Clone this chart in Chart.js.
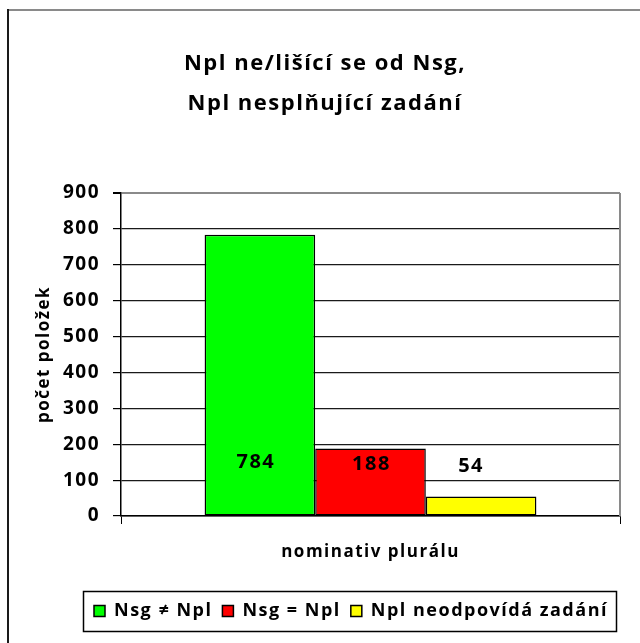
<!DOCTYPE html>
<html>
<head>
<meta charset="utf-8">
<script src="https://cdn.jsdelivr.net/npm/chart.js@4/dist/chart.umd.min.js"></script>
<style>
  html, body { margin: 0; padding: 0; background: #fff; }
  #wrap { position: relative; width: 640px; height: 643px; }
</style>
</head>
<body>
<div id="wrap"><canvas id="c"></canvas></div>
<script>
// ---- data ----
const titleLines = ['Npl ne/lišící se od Nsg,', 'Npl nesplňující zadání'];
const categories = [''];
const seriesNames = ['Nsg \u2260 Npl', 'Nsg = Npl', 'Npl neodpovídá zadání'];
const seriesValues = [784, 188, 54];
const seriesColors = ['#00ff00', '#ff0000', '#ffff00'];
const yTicks = [0, 100, 200, 300, 400, 500, 600, 700, 800, 900];
const xTitle = 'nominativ plurálu';
const yTitle = 'počet položek';

const FONT = '"Open Sans", Lato, sans-serif';
const SPACING = '1.5px';

const datasets = seriesNames.map((name, i) => ({
  label: name,
  data: [seriesValues[i]],
  backgroundColor: seriesColors[i],
  borderColor: '#000',
  borderWidth: 1.5,
  borderSkipped: false,
  categoryPercentage: 0.665,
  barPercentage: 1.0
}));

// label placement (value on the y scale, x shift) for the value labels
const labelPlace = [[150, -4], [145, 1], [139, -10]];

function setSpacing(chart) {
  if ('letterSpacing' in chart.ctx) chart.ctx.letterSpacing = SPACING;
}

const decor = {
  id: 'decor',
  beforeInit: setSpacing,
  beforeUpdate: setSpacing,
  beforeLayout: setSpacing,
  beforeDraw(chart) {
    setSpacing(chart);
    const ctx = chart.ctx;
    ctx.save();
    ctx.lineWidth = 2;
    ctx.strokeStyle = '#8a8a8a';
    ctx.beginPath(); ctx.moveTo(8, 10); ctx.lineTo(700, 10); ctx.stroke();
    ctx.strokeStyle = '#1a1a1a';
    ctx.beginPath(); ctx.moveTo(8, 9); ctx.lineTo(8, 700); ctx.stroke();
    ctx.restore();
  },
  afterUpdate(chart) {
    const tb = chart.titleBlock;
    if (tb) { tb.left += 15; tb.right += 15; }
    const lg = chart.legend;
    if (!lg || !lg.legendHitBoxes || !lg.legendHitBoxes.length) return;
    const dx = 94 - lg.legendHitBoxes[0].left;
    lg.left += dx; lg.right += dx;
    lg.legendHitBoxes.forEach(h => { h.left += dx; });
  },
  afterDatasetsDraw(chart) {
    const ctx = chart.ctx;
    const ys = chart.scales.y;
    const ca = chart.chartArea;
    ctx.save();
    ctx.strokeStyle = '#8a8a8a';
    ctx.lineWidth = 2;
    ctx.beginPath(); ctx.moveTo(ca.right, ca.top); ctx.lineTo(ca.right, ca.bottom); ctx.stroke();
    ctx.fillStyle = '#000';
    ctx.font = 'bold 20px ' + FONT;
    ctx.textAlign = 'center';
    ctx.textBaseline = 'middle';
    chart.data.datasets.forEach((ds, i) => {
      const el = chart.getDatasetMeta(i).data[0];
      const y = ys.getPixelForValue(labelPlace[i][0]);
      ctx.fillText(String(ds.data[0]), el.x + labelPlace[i][1], y);
    });
    ctx.restore();
  },
  afterDraw(chart) {
    const lg = chart.legend;
    if (!lg || !lg.legendHitBoxes || !lg.legendHitBoxes.length) return;
    const hb = lg.legendHitBoxes;
    const first = hb[0], last = hb[hb.length - 1];
    const ctx = chart.ctx;
    ctx.save();
    ctx.strokeStyle = '#000';
    ctx.lineWidth = 1.5;
    const l = Math.round(first.left - 11) + 0.5;
    const r = Math.round(last.left + last.width + 8) + 0.5;
    const t = Math.round(first.top - 11) + 0.5;
    const b = Math.round(first.top + first.height + 11) + 0.5;
    ctx.strokeRect(l, t, r - l, b - t);
    ctx.restore();
  }
};

new Chart(document.getElementById('c'), {
  type: 'bar',
  data: { labels: categories, datasets },
  options: {
    responsive: true,
    maintainAspectRatio: false,
    animation: false,
    devicePixelRatio: 1,
    layout: { padding: { left: 0, right: 20, top: 0, bottom: 13 } },
    plugins: {
      title: {
        display: true,
        text: titleLines,
        color: '#000',
        font: { family: FONT, size: 22, weight: 'bold', lineHeight: 40 / 22 },
        padding: { top: 44, bottom: 69 }
      },
      legend: {
        display: true,
        position: 'bottom',
        labels: {
          color: '#000',
          font: { family: FONT, size: 18, weight: 'bold' },
          boxWidth: 11,
          boxHeight: 11,
          padding: 10
        }
      },
      tooltip: { enabled: false }
    },
    scales: {
      x: {
        grid: { display: true, drawOnChartArea: false, drawTicks: true, tickLength: 8, color: '#000', offset: true },
        border: { display: true, color: '#000', width: 1.5 },
        ticks: { display: false },
        title: {
          display: true,
          text: xTitle,
          color: '#000',
          font: { family: FONT, size: 17, weight: 'bold' },
          padding: { top: 0, bottom: 30 }
        },
        afterFit(scale) { scale.height = 76; }
      },
      y: {
        min: 0,
        max: 900,
        afterBuildTicks(scale) { scale.ticks = yTicks.map(v => ({ value: v })); },
        grid: {
          color: (c) => (c.tick && c.tick.value === 900 ? '#8a8a8a' : '#1a1a1a'),
          lineWidth: (c) => (c.tick && c.tick.value === 900 ? 2 : 1.2),
          tickColor: '#000',
          tickLength: 8,
          drawTicks: true
        },
        border: { display: true, color: '#000', width: 1.5 },
        ticks: {
          color: '#000',
          font: { family: FONT, size: 19, weight: 'bold' },
          padding: 13
        },
        title: {
          display: true,
          text: yTitle,
          color: '#000',
          font: { family: FONT, size: 17, weight: 'bold' },
          padding: { top: 34, bottom: 0 }
        },
        afterFit(scale) { scale.width = 121; }
      }
    }
  },
  plugins: [decor]
});
</script>
</body>
</html>
